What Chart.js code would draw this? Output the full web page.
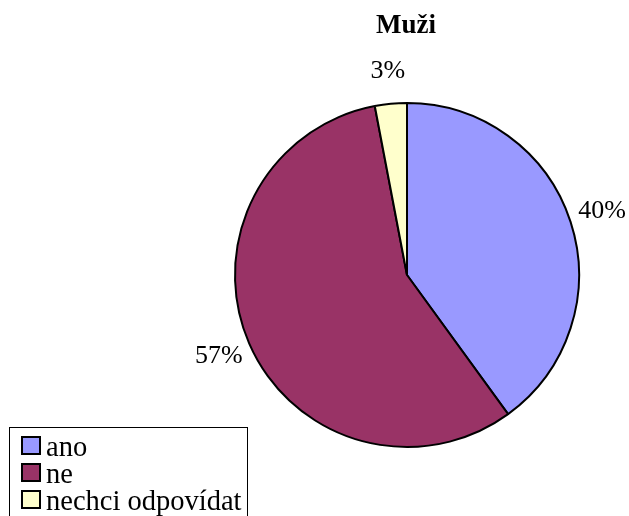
<!DOCTYPE html>
<html>
<head>
<meta charset="utf-8">
<script src="https://cdn.jsdelivr.net/npm/chart.js@4/dist/chart.umd.min.js"></script>
<style>
  html, body { margin: 0; padding: 0; background: #fff; }
  #wrap { width: 629px; height: 516px; position: relative; }
</style>
</head>
<body>
<div id="wrap"><canvas id="chart" width="629" height="516"></canvas></div>
<script>
const categories = ['ano', 'ne', 'nechci odpovídat'];
const shares = [40, 57, 3];  // percent
const sliceColors = ['#9999FF', '#993366', '#FFFFCC'];
const chartTitle = 'Muži';

const serif = '"Liberation Serif", "Times New Roman", serif';

// title drawn by hand so it can sit exactly where the reference has it
const titlePlugin = {
    id: 'titleText',
    afterDraw(chart) {
        const ctx = chart.ctx;
        ctx.save();
        ctx.font = 'bold 27px ' + serif;
        ctx.fillStyle = '#000';
        ctx.textAlign = 'center';
        ctx.textBaseline = 'alphabetic';
        ctx.fillText(chartTitle, 406, 33);
        ctx.restore();
    }
};

// percentage labels outside each slice
const sliceLabels = {
    id: 'sliceLabels',
    afterDatasetsDraw(chart) {
        const ctx = chart.ctx;
        const meta = chart.getDatasetMeta(0);
        ctx.save();
        ctx.font = '26px ' + serif;
        ctx.fillStyle = '#000';
        ctx.textAlign = 'center';
        ctx.textBaseline = 'middle';
        meta.data.forEach((arc, i) => {
            const { x, y, startAngle, endAngle, outerRadius } = arc.getProps(['x', 'y', 'startAngle', 'endAngle', 'outerRadius'], true);
            const mid = (startAngle + endAngle) / 2;
            const r = outerRadius + 33;
            ctx.fillText(shares[i] + '%', x + Math.cos(mid) * r, y + Math.sin(mid) * r);
        });
        ctx.restore();
    }
};

// boxed legend in the lower left corner
const boxLegend = {
    id: 'boxLegend',
    afterDraw(chart) {
        const ctx = chart.ctx;
        ctx.save();
        ctx.strokeStyle = '#000';
        ctx.lineWidth = 1;
        ctx.strokeRect(9.5, 427.5, 238, 120);
        ctx.font = '28.5px ' + serif;
        ctx.textBaseline = 'alphabetic';
        ctx.textAlign = 'left';
        categories.forEach((label, i) => {
            const top = 437 + i * 27;
            ctx.fillStyle = sliceColors[i];
            ctx.fillRect(22, top, 18, 17);
            ctx.lineWidth = 2;
            ctx.strokeRect(22, top, 18, 17);
            ctx.fillStyle = '#000';
            ctx.fillText(label, 46, top + 19);
        });
        ctx.restore();
    }
};

new Chart(document.getElementById('chart').getContext('2d'), {
    type: 'pie',
    data: {
        labels: categories,
        datasets: [{
            data: shares,
            backgroundColor: sliceColors,
            borderColor: '#000',
            borderWidth: 2,
        }]
    },
    options: {
        responsive: false,
        animation: false,
        layout: {
            padding: { left: 234, right: 49, top: 102, bottom: 68 }
        },
        plugins: {
            legend: { display: false },
            title: { display: false },
            tooltip: { enabled: false },
        },
    },
    plugins: [titlePlugin, sliceLabels, boxLegend],
});
</script>
</body>
</html>
